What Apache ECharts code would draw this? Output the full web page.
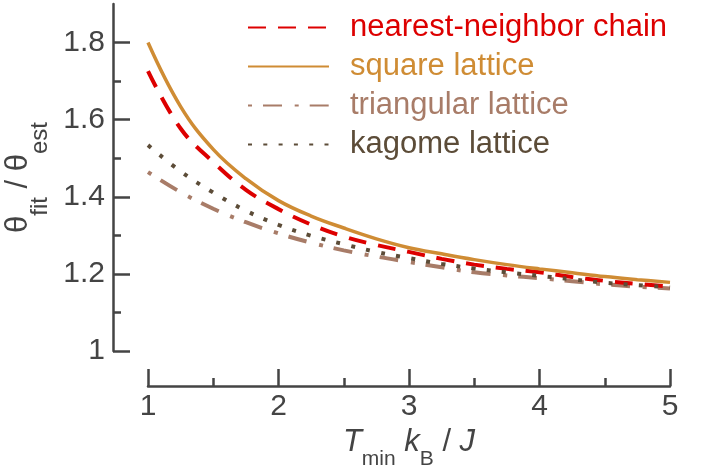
<!DOCTYPE html>
<html>
<head>
<meta charset="utf-8">
<script src="https://cdn.jsdelivr.net/npm/echarts@6/dist/echarts.min.js"></script>
<style>
  html, body { margin: 0; padding: 0; background: #fff; }
  #chart { width: 706px; height: 468px; }
</style>
</head>
<body>
<div id="chart"></div>
<script>
// Ratio of fitted to estimated temperature vs. lower fit bound T_min k_B / J
const temperatures = [1, 1.25, 1.5, 1.75, 2, 2.25, 2.5, 2.75, 3, 3.25, 3.5, 3.75, 4, 4.25, 4.5, 4.75, 5];
const chainRatio      = [1.726, 1.577, 1.490, 1.418, 1.368, 1.328, 1.297, 1.275, 1.257, 1.239, 1.224, 1.213, 1.204, 1.192, 1.182, 1.174, 1.167];
const squareRatio     = [1.800, 1.634, 1.523, 1.447, 1.390, 1.350, 1.319, 1.291, 1.268, 1.252, 1.237, 1.224, 1.213, 1.203, 1.193, 1.185, 1.178];
const triangularRatio = [1.464, 1.412, 1.369, 1.334, 1.305, 1.281, 1.261, 1.245, 1.231, 1.217, 1.204, 1.196, 1.189, 1.181, 1.173, 1.167, 1.162];
const kagomeRatio     = [1.534, 1.466, 1.411, 1.364, 1.327, 1.299, 1.277, 1.257, 1.241, 1.226, 1.214, 1.204, 1.195, 1.186, 1.177, 1.171, 1.165];

const seriesNames = ['nearest-neighbor chain', 'square lattice', 'triangular lattice', 'kagome lattice'];
const yMajorTicks = [1, 1.2, 1.4, 1.6, 1.8];
const yMinorTicks = [1.1, 1.3, 1.5, 1.7];

const FONT = '"Liberation Sans", Arial, Helvetica, sans-serif';
const AXIS = '#444444';
const COLORS = {
  chain: '#dd0000',
  square: '#cf8c34',
  triangular: '#a87c68',
  kagome: '#5c4c38'
};

const pairs = vals => temperatures.map((t, i) => [t, vals[i]]);
const tickLine = { color: AXIS, width: 2.5 };

const chart = echarts.init(document.getElementById('chart'), null, { renderer: 'canvas' });

chart.setOption({
  animation: false,
  backgroundColor: '#ffffff',
  textStyle: { fontFamily: FONT },
  grid: { left: 148, right: 36, top: 4, bottom: 117, containLabel: false, outerBoundsMode: 'none' },
  legend: {
    orient: 'vertical',
    left: 242,
    top: 7,
    itemWidth: 81,
    itemHeight: 14,
    itemGap: 8,
    selectedMode: false,
    itemStyle: { opacity: 0 },
    textStyle: { fontFamily: FONT, fontSize: 31, lineHeight: 31, padding: [0, 0, 0, 16] },
    data: [
      { name: seriesNames[0], textStyle: { color: COLORS.chain } },
      { name: seriesNames[1], textStyle: { color: COLORS.square } },
      { name: seriesNames[2], textStyle: { color: COLORS.triangular } },
      { name: seriesNames[3], textStyle: { color: COLORS.kagome } }
    ]
  },
  xAxis: {
    type: 'value',
    min: 1,
    max: 5,
    interval: 1,
    offset: 35,
    axisLine: { show: true, lineStyle: tickLine },
    axisTick: { show: true, inside: true, length: 17, lineStyle: tickLine },
    minorTick: { show: true, splitNumber: 2, length: 8, lineStyle: tickLine },
    axisLabel: { fontFamily: FONT, fontSize: 30, color: AXIS, margin: 6 },
    splitLine: { show: false },
    minorSplitLine: { show: false },
    name: '{i|T}{s|min} {i|k}{s|B} / {i|J}',
    nameLocation: 'middle',
    nameGap: 25,
    nameTextStyle: {
      fontFamily: FONT, fontSize: 31, color: AXIS,
      rich: {
        i: { fontFamily: FONT, fontSize: 31, fontStyle: 'italic', color: AXIS },
        s: { fontFamily: FONT, fontSize: 21, color: AXIS, padding: [34, 0, 0, 0] }
      }
    }
  },
  yAxis: [
    {
      type: 'value',
      min: 1,
      max: 1.9,
      position: 'left',
      offset: 35,
      axisLine: { show: true, lineStyle: tickLine },
      axisTick: { show: true, inside: true, length: 17, lineStyle: tickLine, customValues: yMajorTicks },
      axisLabel: { fontFamily: FONT, fontSize: 30, color: AXIS, margin: 8, customValues: yMajorTicks },
      splitLine: { show: false },
      name: '{m|θ}{s|fit} / {m|θ}{s|est}',
      nameLocation: 'middle',
      nameRotate: 90,
      nameGap: 52,
      nameTextStyle: {
        fontFamily: FONT, fontSize: 31, color: AXIS,
        rich: {
          m: { fontFamily: FONT, fontSize: 31, color: AXIS },
          s: { fontFamily: FONT, fontSize: 24, color: AXIS, padding: [44, 0, 0, 0] }
        }
      }
    },
    {
      // minor ticks between the labelled values
      type: 'value',
      min: 1,
      max: 1.9,
      position: 'left',
      offset: 35,
      axisLine: { show: false },
      axisTick: { show: true, inside: true, length: 8, lineStyle: tickLine, customValues: yMinorTicks },
      axisLabel: { show: false },
      splitLine: { show: false }
    }
  ],
  series: [
    {
      name: seriesNames[2], type: 'line', data: pairs(triangularRatio), symbol: 'none', smooth: 0.4, z: 2,
      itemStyle: { color: COLORS.triangular },
      lineStyle: { color: COLORS.triangular, width: 4, type: [4, 11, 19, 12.7], cap: 'butt' }
    },
    {
      name: seriesNames[0], type: 'line', data: pairs(chainRatio), symbol: 'none', smooth: 0.4, z: 3,
      itemStyle: { color: COLORS.chain },
      lineStyle: { color: COLORS.chain, width: 4, type: [18, 12], cap: 'butt' }
    },
    {
      name: seriesNames[1], type: 'line', data: pairs(squareRatio), symbol: 'none', smooth: 0.4, z: 4,
      itemStyle: { color: COLORS.square },
      lineStyle: { color: COLORS.square, width: 3.5, type: 'solid' }
    },
    {
      name: seriesNames[3], type: 'line', data: pairs(kagomeRatio), symbol: 'none', smooth: 0.4, z: 5,
      itemStyle: { color: COLORS.kagome },
      lineStyle: { color: COLORS.kagome, width: 4, type: [4, 11.3], cap: 'butt' }
    }
  ]
});
</script>
</body>
</html>
